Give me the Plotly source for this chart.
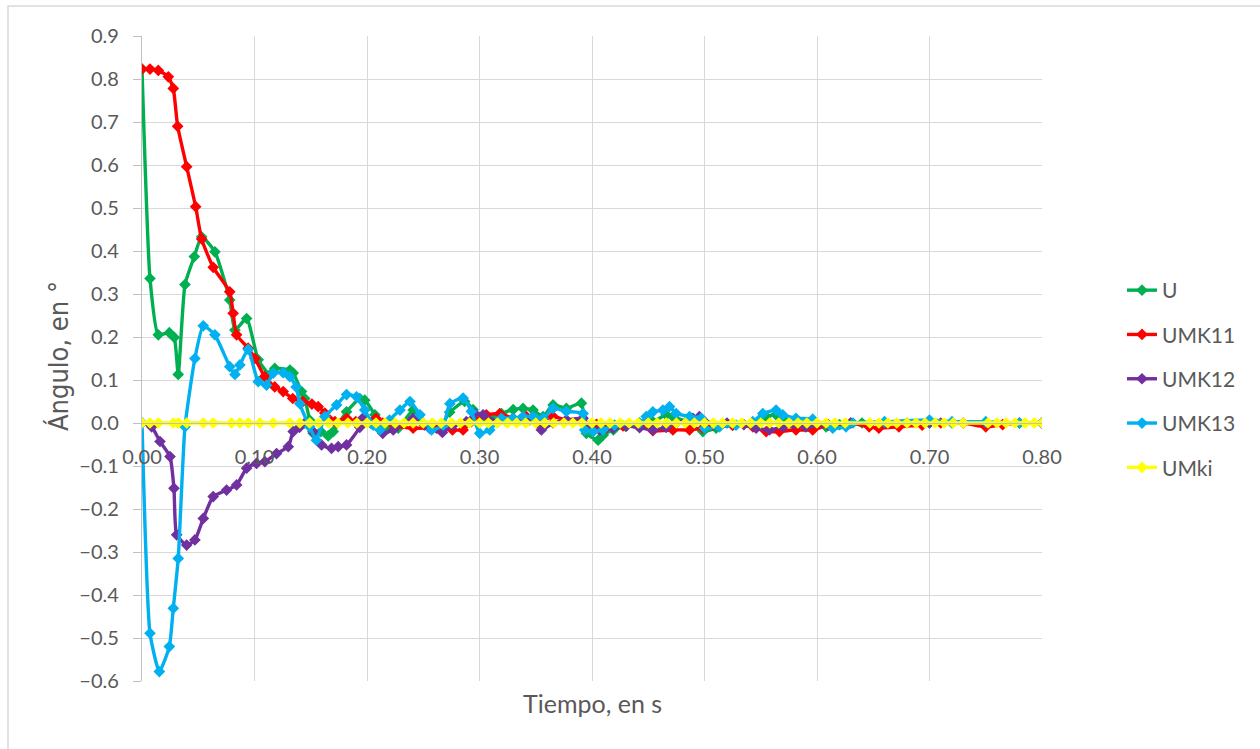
import plotly.graph_objects as go

# --- series data (time in s, angle in degrees) ---
t_u = [0, 0.0071, 0.0145, 0.0243, 0.0287, 0.0322, 0.0382, 0.0465, 0.053, 0.0648, 0.078, 0.0826,
       0.093, 0.1033, 0.1137, 0.118, 0.1315, 0.1344, 0.1418, 0.1447, 0.149, 0.1522, 0.159, 0.1655,
       0.170, 0.1818, 0.1936, 0.198, 0.207, 0.211, 0.217, 0.2277, 0.241, 0.251, 0.264, 0.2735,
       0.2868, 0.2943, 0.2987, 0.3091, 0.3195, 0.3299, 0.3387, 0.3476, 0.3565, 0.3654, 0.3772,
       0.3906, 0.395, 0.4054, 0.41, 0.419, 0.43, 0.442, 0.454, 0.4659, 0.4718, 0.4837, 0.4985,
       0.5103, 0.525, 0.543, 0.5548, 0.5636, 0.5725, 0.59, 0.6081, 0.62, 0.64, 0.66, 0.68, 0.70,
       0.72, 0.75, 0.78, 0.80]
u = [0.823, 0.336, 0.205, 0.21, 0.199, 0.113, 0.322, 0.387, 0.433, 0.398, 0.286, 0.216,
     0.243, 0.147, 0.112, 0.127, 0.123, 0.116, 0.073, 0.057, 0.007, -0.024, -0.02, -0.03,
     -0.02, 0.026, 0.057, 0.053, 0.019, 0.0, -0.012, -0.012, 0.03, -0.005, -0.012, 0.025,
     0.05, 0.031, 0.003, 0.011, 0.022, 0.031, 0.034, 0.03, 0.015, 0.042, 0.034,
     0.046, -0.024, -0.04, -0.028, -0.016, -0.008, 0.0, 0.003, 0.019, 0.015, 0.003, -0.02,
     -0.012, -0.005, 0.0, 0.015, 0.019, 0.003, 0.0, -0.009, -0.004, 0.0, 0.0, 0.0, 0.0,
     0.0, 0.0, 0.0, 0.0]

t_umk11 = [0, 0.0071, 0.0145, 0.0234, 0.0278, 0.0317, 0.0397, 0.0477, 0.053, 0.0633, 0.078,
           0.081, 0.0841, 0.0944, 0.1004, 0.109, 0.118, 0.1255, 0.134, 0.143, 0.151, 0.1566,
           0.1625, 0.167, 0.1715, 0.182, 0.19, 0.2, 0.208, 0.214, 0.226, 0.241, 0.262, 0.276,
           0.2854, 0.2928, 0.3061, 0.318, 0.3299, 0.3417, 0.3536, 0.3654, 0.3772, 0.3906,
           0.395, 0.404, 0.413, 0.4276, 0.4423, 0.4541, 0.4719, 0.4867, 0.4985, 0.5074, 0.525,
           0.543, 0.5548, 0.5666, 0.5813, 0.5962, 0.61, 0.63, 0.6464, 0.655, 0.6728, 0.6935,
           0.71, 0.73, 0.75, 0.765, 0.78, 0.80]
umk11 = [0.823, 0.823, 0.82, 0.805, 0.778, 0.69, 0.596, 0.503, 0.428, 0.362, 0.305,
         0.255, 0.205, 0.174, 0.15, 0.108, 0.084, 0.073, 0.057, 0.05, 0.044, 0.038,
         0.023, 0.007, 0.003, 0.011, 0.003, 0.005, 0.011, 0.0, -0.008, -0.012, -0.012, -0.016,
         -0.016, 0.003, 0.019, 0.022, 0.011, 0.015, 0.003, 0.015, 0.007, 0.007,
         -0.007, -0.003, -0.011, -0.007, -0.007, -0.018, -0.016, -0.016, -0.012, -0.005, -0.005,
         -0.009, -0.02, -0.02, -0.016, -0.016, -0.005, 0.0, -0.009, -0.012, -0.009, -0.005,
         0.0, 0.0, -0.009, -0.004, 0.0, 0.0]

t_umk12 = [0, 0.0086, 0.016, 0.0249, 0.0284, 0.0308, 0.0397, 0.047, 0.0545, 0.0633, 0.0752,
           0.0841, 0.093, 0.1018, 0.1092, 0.1196, 0.13, 0.1344, 0.14, 0.1447, 0.152, 0.1596,
           0.1685, 0.1744, 0.1818, 0.1936, 0.1966, 0.203, 0.214, 0.2233, 0.241, 0.2555, 0.267,
           0.2765, 0.2883, 0.2957, 0.3032, 0.3165, 0.324, 0.3358, 0.3447, 0.355, 0.3654,
           0.3772, 0.3921, 0.3965, 0.4069, 0.4188, 0.4306, 0.4423, 0.4541, 0.4659, 0.475,
           0.4897, 0.4955, 0.5, 0.52, 0.535, 0.5459, 0.5577, 0.57, 0.59, 0.61, 0.63, 0.66,
           0.70, 0.75, 0.80]
umk12 = [0.0, -0.009, -0.043, -0.078, -0.152, -0.26, -0.284, -0.272, -0.222, -0.171, -0.156,
         -0.144, -0.105, -0.094, -0.09, -0.071, -0.055, -0.02, -0.01, 0.0, -0.02, -0.051,
         -0.059, -0.055, -0.051, -0.01, 0.012, 0.0, -0.024, -0.016, 0.011, -0.012, -0.022,
         -0.005, 0.003, 0.022, 0.019, 0.003, 0.003, 0.007, 0.007, -0.016, 0.0,
         0.007, 0.011, -0.007, -0.016, -0.012, -0.007, -0.011, -0.016, -0.01, 0.0,
         0.011, 0.015, 0.003, 0.0, -0.004, -0.012, -0.016, -0.009, -0.009, -0.004, 0.0, 0.0,
         0.0, 0.0, 0.0]

t_umk13 = [0, 0.0071, 0.0154, 0.0243, 0.0278, 0.0322, 0.0382, 0.047, 0.0545, 0.0648, 0.078,
           0.0826, 0.087, 0.0944, 0.1033, 0.1107, 0.1166, 0.1255, 0.1314, 0.137, 0.1403, 0.149,
           0.155, 0.1625, 0.173, 0.1818, 0.1907, 0.198, 0.2055, 0.2115, 0.22, 0.2293, 0.2382,
           0.2471, 0.2574, 0.2678, 0.2737, 0.2854, 0.2928, 0.3002, 0.3091, 0.3195, 0.3299,
           0.3387, 0.3476, 0.3565, 0.3654, 0.3772, 0.3921, 0.3935, 0.401, 0.4097, 0.42, 0.4423,
           0.4482, 0.4541, 0.463, 0.4689, 0.4748, 0.4867, 0.497, 0.5, 0.5133, 0.528, 0.5429,
           0.5518, 0.5636, 0.5695, 0.5813, 0.5962, 0.614, 0.6258, 0.632, 0.66, 0.70, 0.72,
           0.75, 0.78, 0.80]
umk13 = [0.0, -0.489, -0.578, -0.52, -0.431, -0.315, -0.009, 0.15, 0.226, 0.205, 0.131,
         0.113, 0.135, 0.171, 0.096, 0.088, 0.116, 0.117, 0.108, 0.084, 0.045, -0.009,
         -0.04, 0.015, 0.042, 0.066, 0.061, 0.03, -0.005, -0.016, 0.007, 0.03, 0.05,
         0.019, -0.016, -0.005, 0.045, 0.058, 0.027, -0.024, -0.016, 0.011, 0.011,
         0.015, 0.015, 0.011, 0.034, 0.027, 0.022, -0.016, -0.02, -0.016, -0.005, 0.0,
         0.015, 0.026, 0.03, 0.038, 0.022, 0.015, 0.011, -0.012, -0.009, -0.005, 0.003,
         0.022, 0.03, 0.019, 0.011, 0.009, -0.012, -0.009, 0.0, 0.003, 0.007, 0.003,
         0.003, 0.0, 0.0]

t_umki = [0, 0.0071, 0.0145, 0.0278, 0.0322, 0.0397, 0.0545, 0.0633, 0.0796, 0.087, 0.0944,
          0.1048, 0.1166, 0.1314, 0.1403, 0.149, 0.157, 0.166, 0.174, 0.183, 0.191, 0.2,
          0.208, 0.216, 0.225, 0.233, 0.241, 0.25, 0.258, 0.266, 0.275, 0.283, 0.291, 0.3,
          0.308, 0.316, 0.325, 0.333, 0.341, 0.35, 0.358, 0.366, 0.375, 0.383, 0.391, 0.4,
          0.408, 0.416, 0.425, 0.433, 0.441, 0.45, 0.458, 0.466, 0.475, 0.483, 0.491, 0.5,
          0.508, 0.516, 0.525, 0.533, 0.541, 0.55, 0.558, 0.566, 0.575, 0.583, 0.591, 0.6,
          0.608, 0.616, 0.625, 0.647, 0.655, 0.663, 0.671, 0.68, 0.688, 0.696, 0.705, 0.713,
          0.721, 0.73, 0.752, 0.76, 0.768, 0.776, 0.785, 0.793, 0.80]
umki = [0.0] * len(t_umki)

series = [
    ("U", t_u, u, "#00B050"),
    ("UMK11", t_umk11, umk11, "#FF0000"),
    ("UMK12", t_umk12, umk12, "#7030A0"),
    ("UMK13", t_umk13, umk13, "#00B0F0"),
    ("UMki", t_umki, umki, "#FFFF00"),
]

TXT = "#595959"
GRID = "#D9D9D9"
FONT = "Lato, 'Open Sans', sans-serif"

fig = go.Figure()
for name, tx, vy, col in series:
    fig.add_trace(go.Scatter(
        x=tx, y=vy, name=name, mode="lines+markers", legendgroup=name,
        line=dict(color=col, width=3.4, shape="spline", smoothing=0.5),
        marker=dict(symbol="diamond", size=9, color=col),
    ))

# plot area: 142..1042 px horizontally, 36..681 px vertically
L, R, T, B = 142, 218, 36, 68
W, H = 1260, 749
pw, ph = W - L - R, H - T - B

def px(x):
    return (x - L) / pw

def py(y):
    return (H - B - y) / ph

fig.update_layout(
    width=W, height=H,
    margin=dict(l=L, r=R, t=T, b=B, pad=0),
    paper_bgcolor="white", plot_bgcolor="white",
    font=dict(family=FONT, color=TXT, size=20),
    showlegend=True,
    legend=dict(
        x=px(1122), y=py(270), xanchor="left", yanchor="top",
        font=dict(size=21, color=TXT, family=FONT),
        tracegroupgap=14, bgcolor="rgba(0,0,0,0)",
    ),
    xaxis=dict(
        range=[0, 0.8], dtick=0.1, tick0=0, tickformat=".2f",
        showgrid=True, gridcolor=GRID, gridwidth=1.3,
        zeroline=False, showline=True, linecolor="#BFBFBF", linewidth=1.3,
        anchor="free", position=(0 - (-0.6)) / 1.5,
        ticks="", ticklabelstandoff=16,
        tickfont=dict(size=20, color=TXT, family=FONT),
    ),
    yaxis=dict(
        range=[-0.6, 0.9], dtick=0.1, tick0=0, tickformat=".1f",
        showgrid=True, gridcolor=GRID, gridwidth=1.3,
        zeroline=False, showline=True, linecolor="#BFBFBF", linewidth=1.3,
        ticks="outside", ticklen=8, tickcolor="#BFBFBF", tickwidth=1.3,
        ticklabelstandoff=10,
        tickfont=dict(size=20, color=TXT, family=FONT),
    ),
    annotations=[
        dict(text="Tiempo, en s", xref="paper", yref="paper", x=0.5, y=py(703),
             xanchor="center", yanchor="middle", showarrow=False,
             font=dict(size=25, color=TXT, family=FONT)),
        dict(text="Ángulo, en °", xref="paper", yref="paper", x=px(58), y=py(356),
             xanchor="center", yanchor="middle", showarrow=False, textangle=-90,
             font=dict(size=27, color=TXT,
                       family="'Liberation Sans Narrow', 'DejaVu Sans Condensed', 'Roboto Condensed', Roboto, sans-serif")),
    ],
    shapes=[
        dict(type="rect", xref="paper", yref="paper",
             x0=px(8), x1=px(1275), y0=py(765), y1=py(6),
             line=dict(color=GRID, width=1.5), fillcolor="rgba(0,0,0,0)", layer="below"),
    ],
)

fig.write_html("out.html")
